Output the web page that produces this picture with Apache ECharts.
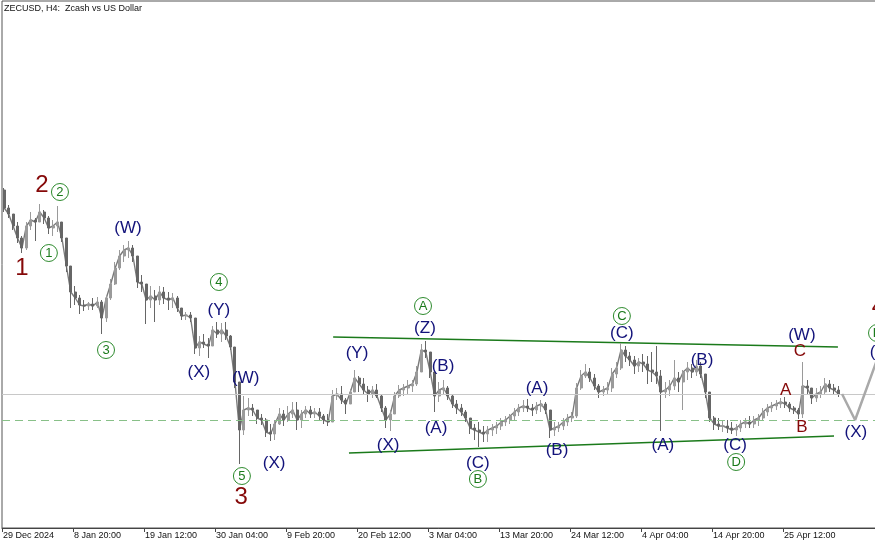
<!DOCTYPE html>
<html>
<head>
<meta charset="utf-8">
<script src="https://cdn.jsdelivr.net/npm/echarts@6/dist/echarts.min.js"></script>
<style>
  html, body { margin: 0; padding: 0; background: #fff; }
  #chart { width: 875px; height: 545px; }
</style>
</head>
<body>
<div id="chart"></div>
<script>
// x values are hours from 29 Dec 2024 04:00, one sample every 16 hours
const tickHours = [0, 256, 512, 768, 1024, 1280, 1536, 1792, 2048, 2304, 2560, 2816];
const tickLabels = ['29 Dec 2024', '8 Jan 20:00', '19 Jan 12:00', '30 Jan 04:00', '9 Feb 20:00',
  '20 Feb 12:00', '3 Mar 04:00', '13 Mar 20:00', '24 Mar 12:00', '4 Apr 04:00', '14 Apr 20:00', '25 Apr 12:00'];

const firstOpen = 56.0;
const closes = [
  54.2,53.6,52.4,51.2,50.2,52.4,53.0,52.8,53.8,53.2,
  52.2,52.4,52.8,51.2,48.4,45.8,45.2,44.5,44.4,44.6,
  44.4,44.8,43.2,45.2,46.6,48.2,49.4,50.0,50.2,49.4,
  46.8,46.6,45.0,45.4,45.0,45.8,45.2,45.0,45.2,44.2,
  43.4,43.5,43.2,40.2,40.8,40.6,40.4,42.0,41.6,42.0,
  41.4,40.3,36.8,32.0,34.0,34.2,34.0,33.2,33.0,31.8,
  31.6,32.6,33.6,33.0,33.6,34.0,33.0,33.6,34.0,33.6,
  33.8,33.4,33.0,32.8,35.4,35.6,35.0,34.6,35.8,37.2,
  36.6,36.0,35.6,36.0,35.4,34.2,33.0,33.6,35.4,36.0,
  36.2,36.4,36.6,37.8,40.0,39.8,37.8,35.4,36.0,36.2,
  35.4,34.6,34.2,33.8,33.2,32.2,32.0,31.8,31.6,32.0,
  32.2,32.4,32.8,33.0,33.4,33.8,34.2,34.4,34.2,34.0,
  34.4,34.6,34.0,32.0,32.2,32.4,32.8,33.2,33.4,36.2,
  37.4,37.8,37.2,36.4,35.8,36.0,36.2,37.6,38.2,40.0,
  39.4,39.0,38.4,38.8,38.6,38.0,37.8,37.4,35.8,36.0,
  36.4,37.2,36.8,37.8,38.2,37.8,38.4,37.6,35.8,33.2,
  32.6,32.4,32.4,32.2,32.0,32.2,32.6,32.8,32.6,33.0,
  33.2,33.8,34.2,34.4,34.6,34.8,34.6,34.2,34.0,33.6,
  36.4,36.2,35.2,35.6,35.8,36.6,36.2,36.0,35.6
];
const highs = [
  56.2,54.5,53.5,52.8,51.4,52.8,53.8,53.2,54.6,54.0,
  53.4,53.0,54.4,52.8,51.0,48.2,46.4,45.5,45.0,44.8,
  45.2,45.3,45.0,45.4,47.1,48.8,50.0,50.5,50.9,50.5,
  49.2,47.5,46.5,46.4,46.0,46.4,46.3,45.8,45.7,45.4,
  44.0,43.8,43.8,43.2,41.4,41.6,41.2,42.4,42.8,42.7,
  42.8,41.5,39.5,36.5,35.4,35.2,34.6,33.8,33.6,33.2,
  32.6,33.0,34.2,34.0,34.4,34.8,34.8,34.0,34.4,34.4,
  34.2,34.2,33.6,33.6,36.0,36.2,36.4,35.2,36.1,38.0,
  37.4,37.2,36.4,36.4,36.6,35.5,34.4,34.0,35.8,36.5,
  36.6,37.0,37.0,38.4,40.6,40.9,39.8,37.8,36.8,37.0,
  36.4,35.6,35.0,34.6,34.0,33.2,32.6,32.8,32.4,32.4,
  32.6,32.8,33.2,33.4,33.6,34.2,34.6,35.0,35.1,34.6,
  34.8,35.0,34.8,34.0,32.8,32.8,33.2,33.6,33.8,36.7,
  38.0,38.6,38.2,37.6,36.6,36.4,36.8,38.2,38.8,40.7,
  40.4,39.8,39.4,39.2,39.6,39.4,39.8,40.4,38.0,36.8,
  37.0,39.0,37.8,38.0,38.8,38.6,39.0,38.8,37.4,35.5,
  33.4,33.2,33.0,33.0,32.8,32.6,33.0,33.2,33.4,33.4,
  33.6,34.2,34.6,34.8,35.0,35.2,35.3,34.8,34.4,34.2,
  38.8,37.0,36.0,36.2,36.4,37.2,37.0,36.6,36.4
];
const lows = [
  53.8,53.2,52.0,50.7,49.7,50.0,52.0,50.9,52.8,52.6,
  51.6,51.4,51.8,50.8,47.8,44.2,44.5,43.6,43.9,44.0,
  44.0,44.2,41.6,42.8,45.0,46.5,48.0,48.8,49.2,48.8,
  46.2,45.8,42.6,44.2,42.8,44.5,44.6,44.0,44.2,43.8,
  43.0,43.0,42.8,39.6,39.4,40.2,39.2,40.5,41.2,40.8,
  41.0,40.0,36.2,28.6,31.5,33.4,33.4,32.6,32.5,31.3,
  30.9,31.0,32.5,32.4,32.8,33.2,32.0,32.2,33.2,33.2,
  33.2,33.0,32.6,32.4,32.8,35.0,34.6,33.6,35.0,35.8,
  35.8,35.6,34.8,35.2,35.2,33.8,32.2,31.9,33.6,35.2,
  35.4,35.6,35.8,36.4,37.8,39.2,37.2,33.8,34.8,35.6,
  35.0,34.2,33.6,33.4,32.8,31.6,31.0,30.3,30.8,30.8,
  31.4,31.6,32.0,32.4,32.6,33.0,33.4,33.8,33.8,33.4,
  33.6,33.8,33.6,31.2,31.4,31.8,32.0,32.4,32.8,33.2,
  36.0,37.2,36.8,36.0,35.2,35.4,35.6,35.8,37.2,38.0,
  38.8,38.4,37.6,37.8,37.8,36.6,36.8,36.6,31.9,35.2,
  35.4,36.0,35.8,34.0,37.0,37.2,37.4,37.2,35.2,32.8,
  32.0,32.0,31.8,31.7,31.6,31.4,31.8,32.2,32.2,32.2,
  32.4,33.0,33.4,33.8,34.0,34.2,34.2,33.8,33.6,33.1,
  33.2,35.6,34.6,34.8,35.2,35.6,35.8,35.6,35.3
];

const lastPrice = 35.6;
const dashedLevel = 33.0;
const upperTrend = [[1194, 41.3], [3014, 40.3]];
const lowerTrend = [[1251, 29.7], [3000, 31.4]];
const forecast = [[3029, 35.6], [3076, 33.0], [3202, 42.6]];

// [hours, price, text, kind]
const waveLabels = [
  [72, 48.2, '1', 'deg'], [144, 56.5, '2', 'deg'], [862, 25.3, '3', 'deg'], [3160, 44.3, '4', 'deg'],
  [209, 55.8, '2', 'circ'], [169, 49.7, '1', 'circ'], [375, 40.0, '3', 'circ'], [782, 46.8, '4', 'circ'],
  [865, 27.4, '5', 'circ'], [1518, 44.4, 'A', 'circ'], [1716, 27.1, 'B', 'circ'], [2235, 43.4, 'C', 'circ'],
  [2647, 28.8, 'D', 'circ'], [3155, 41.7, 'E', 'circ'],
  [454, 52.2, '(W)', 'wave'], [782, 44.0, '(Y)', 'wave'], [710, 37.8, '(X)', 'wave'], [879, 37.2, '(W)', 'wave'],
  [981, 28.7, '(X)', 'wave'], [1280, 39.7, '(Y)', 'wave'], [1392, 30.5, '(X)', 'wave'], [1525, 42.2, '(Z)', 'wave'],
  [1590, 38.4, '(B)', 'wave'], [1565, 32.2, '(A)', 'wave'], [1716, 28.7, '(C)', 'wave'], [1929, 36.2, '(A)', 'wave'],
  [2001, 30.0, '(B)', 'wave'], [2235, 41.7, '(C)', 'wave'], [2524, 39.0, '(B)', 'wave'], [2383, 30.5, '(A)', 'wave'],
  [2643, 30.5, '(C)', 'wave'], [2884, 41.5, '(W)', 'wave'], [3079, 31.8, '(X)', 'wave'], [3170, 39.8, '(Y)', 'wave'],
  [2877, 39.9, 'C', 'sub'], [2826, 36.0, 'A', 'sub'], [2884, 32.3, 'B', 'sub']
];

const candles = closes.map((c, i) => {
  const o = i ? closes[i - 1] : firstOpen;
  return [i * 16 + 8, o, c, Math.min(lows[i], o, c), Math.max(highs[i], o, c)];
});
const closeLine = closes.map((c, i) => [i * 16 + 8, c]);

const font = 'Liberation Sans, Arial, sans-serif';
const navy = '#12127a';
const darkRed = '#850808';
const green = '#1b7a1b';

function labelSeries(kind, label, extra) {
  return Object.assign({
    type: 'scatter',
    z: 10,
    silent: true,
    symbolSize: 1,
    itemStyle: { color: 'rgba(255,255,255,0)', opacity: 1 },
    label: Object.assign({ show: true, position: 'inside', fontFamily: font, opacity: 1,
      formatter: p => p.data[2] }, label),
    data: waveLabels.filter(w => w[3] === kind)
  }, extra || {});
}

const chart = echarts.init(document.getElementById('chart'), null, { renderer: 'canvas' });

chart.setOption({
  animation: false,
  backgroundColor: '#ffffff',
  title: {
    text: 'ZECUSD, H4:  Zcash vs US Dollar',
    left: 4, top: 4, padding: 0,
    textStyle: { fontFamily: font, fontSize: 9, fontWeight: 'normal', color: '#111' }
  },
  grid: {
    left: 2, top: 1, width: 923, height: 527,
    outerBoundsMode: 'none', containLabel: false,
    show: true, borderColor: '#555', borderWidth: 1, backgroundColor: '#fff'
  },
  xAxis: {
    type: 'value', min: 0, max: 3328,
    axisLine: { lineStyle: { color: '#444', width: 1 } },
    axisTick: { show: true, length: 4, customValues: tickHours, lineStyle: { color: '#444' } },
    axisLabel: {
      customValues: tickHours, align: 'left', margin: 3, padding: [0, 0, 0, 1],
      fontFamily: font, fontSize: 9, color: '#111',
      formatter: v => tickLabels[tickHours.indexOf(v)] || ''
    },
    splitLine: { show: false }
  },
  yAxis: { type: 'value', min: 22.2, max: 74.9, show: false, splitLine: { show: false } },
  series: [
    {
      type: 'line', silent: true, symbol: 'none', z: 1,
      data: upperTrend,
      lineStyle: { color: green, width: 1.6 },
      markLine: {
        silent: true, symbol: 'none', label: { show: false },
        data: [
          { yAxis: lastPrice, lineStyle: { color: '#c8c8c8', width: 1, type: 'solid' } },
          { yAxis: dashedLevel, lineStyle: { color: '#88c088', width: 1, type: [8, 5] } }
        ]
      }
    },
    { type: 'line', silent: true, symbol: 'none', z: 1, data: lowerTrend, lineStyle: { color: green, width: 1.6 } },
    {
      type: 'line', silent: true, symbol: 'none', z: 3, data: closeLine,
      lineStyle: { color: '#7a7a7a', width: 1.4 }
    },
    {
      type: 'candlestick', silent: true, z: 4, barWidth: 2.5,
      encode: { x: 0, y: [1, 2, 3, 4] },
      itemStyle: { color: '#9a9a9a', color0: '#666666', borderColor: '#9a9a9a', borderColor0: '#666666', borderWidth: 1 },
      data: candles
    },
    { type: 'line', silent: true, symbol: 'none', z: 5, data: forecast, lineStyle: { color: '#a9a9a9', width: 2.5 } },
    labelSeries('wave', { color: navy, fontSize: 17 }),
    labelSeries('sub', { color: darkRed, fontSize: 17 }),
    labelSeries('deg', { color: darkRed, fontSize: 24 }),
    labelSeries('circ', { color: green, fontSize: 13 }, {
      symbol: 'circle', symbolSize: 17,
      itemStyle: { color: '#ffffff', borderColor: '#2e8b2e', borderWidth: 1, opacity: 1 }
    })
  ]
});
</script>
</body>
</html>
